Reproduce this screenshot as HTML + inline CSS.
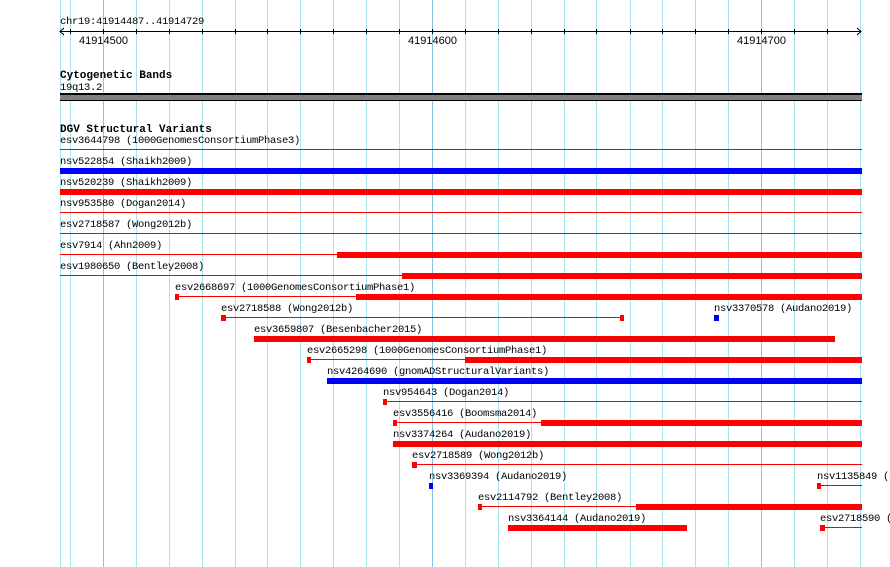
<!DOCTYPE html>
<html><head><meta charset="utf-8"><style>
html,body{margin:0;padding:0;background:#fff;width:890px;height:567px;overflow:hidden}
svg{display:block}
.m{font-family:"Liberation Mono","DejaVu Sans Mono",monospace;font-size:10.5px;fill:#000;letter-spacing:-0.3px}
.b{font-family:"Liberation Mono","DejaVu Sans Mono",monospace;font-size:11px;font-weight:bold;fill:#000}
.s{font-family:"Liberation Sans",sans-serif;font-size:11px;fill:#000}
</style></head><body>
<svg width="890" height="567" xmlns="http://www.w3.org/2000/svg" shape-rendering="crispEdges">
<g stroke="#a8e4ec" stroke-width="1">
<line x1="60.5" y1="0" x2="60.5" y2="567"/>
<line x1="70.5" y1="0" x2="70.5" y2="567"/>
<line x1="103.5" y1="0" x2="103.5" y2="567" stroke="#88c4e4"/>
<line x1="136.5" y1="0" x2="136.5" y2="567"/>
<line x1="169.5" y1="0" x2="169.5" y2="567"/>
<line x1="202.5" y1="0" x2="202.5" y2="567"/>
<line x1="235.5" y1="0" x2="235.5" y2="567"/>
<line x1="267.5" y1="0" x2="267.5" y2="567"/>
<line x1="300.5" y1="0" x2="300.5" y2="567"/>
<line x1="333.5" y1="0" x2="333.5" y2="567"/>
<line x1="366.5" y1="0" x2="366.5" y2="567"/>
<line x1="399.5" y1="0" x2="399.5" y2="567"/>
<line x1="432.5" y1="0" x2="432.5" y2="567" stroke="#88c4e4"/>
<line x1="465.5" y1="0" x2="465.5" y2="567"/>
<line x1="498.5" y1="0" x2="498.5" y2="567"/>
<line x1="531.5" y1="0" x2="531.5" y2="567"/>
<line x1="564.5" y1="0" x2="564.5" y2="567"/>
<line x1="596.5" y1="0" x2="596.5" y2="567"/>
<line x1="630.5" y1="0" x2="630.5" y2="567"/>
<line x1="662.5" y1="0" x2="662.5" y2="567"/>
<line x1="695.5" y1="0" x2="695.5" y2="567"/>
<line x1="728.5" y1="0" x2="728.5" y2="567"/>
<line x1="761.5" y1="0" x2="761.5" y2="567" stroke="#88c4e4"/>
<line x1="794.5" y1="0" x2="794.5" y2="567"/>
<line x1="827.5" y1="0" x2="827.5" y2="567"/>
<line x1="860.5" y1="0" x2="860.5" y2="567"/>
</g>
<text class="m" x="60" y="24">chr19:41914487..41914729</text>
<g stroke="#000" stroke-width="1" fill="none">
<line x1="60" y1="31.5" x2="861" y2="31.5"/>
<polyline points="64,28 60,31.5 64,35"/>
<polyline points="857,28 861,31.5 857,35"/>
<path d="M70.5 29v5M103.5 29v5M136.5 29v5M169.5 29v5M202.5 29v5M235.5 29v5M267.5 29v5M300.5 29v5M333.5 29v5M366.5 29v5M399.5 29v5M432.5 29v5M465.5 29v5M498.5 29v5M531.5 29v5M564.5 29v5M596.5 29v5M630.5 29v5M662.5 29v5M695.5 29v5M728.5 29v5M761.5 29v5M794.5 29v5M827.5 29v5"/>
</g>
<text class="s" x="79" y="44">41914500</text>
<text class="s" x="408" y="44">41914600</text>
<text class="s" x="737" y="44">41914700</text>
<text class="b" x="60" y="78">Cytogenetic Bands</text>
<text class="m" x="60" y="90">19q13.2</text>
<rect x="60" y="93" width="802" height="8" fill="#000"/>
<rect x="60" y="95" width="802" height="5" fill="#808080"/>
<text class="b" x="60" y="132">DGV Structural Variants</text>
<g class="m">
<text x="60" y="143">esv3644798 (1000GenomesConsortiumPhase3)</text>
<text x="60" y="164">nsv522854 (Shaikh2009)</text>
<text x="60" y="185">nsv520239 (Shaikh2009)</text>
<text x="60" y="206">nsv953580 (Dogan2014)</text>
<text x="60" y="227">esv2718587 (Wong2012b)</text>
<text x="60" y="248">esv7914 (Ahn2009)</text>
<text x="60" y="269">esv1980650 (Bentley2008)</text>
<text x="175" y="290">esv2668697 (1000GenomesConsortiumPhase1)</text>
<text x="221" y="311">esv2718588 (Wong2012b)</text>
<text x="714" y="311">nsv3370578 (Audano2019)</text>
<text x="254" y="332">esv3659807 (Besenbacher2015)</text>
<text x="307" y="353">esv2665298 (1000GenomesConsortiumPhase1)</text>
<text x="327" y="374">nsv4264690 (gnomADStructuralVariants)</text>
<text x="383" y="395">nsv954643 (Dogan2014)</text>
<text x="393" y="416">esv3556416 (Boomsma2014)</text>
<text x="393" y="437">nsv3374264 (Audano2019)</text>
<text x="412" y="458">esv2718589 (Wong2012b)</text>
<text x="429" y="479">nsv3369394 (Audano2019)</text>
<text x="817" y="479">nsv1135849 (nsv</text>
<text x="478" y="500">esv2114792 (Bentley2008)</text>
<text x="508" y="521">nsv3364144 (Audano2019)</text>
<text x="820" y="521">esv2718590 (Wong</text>
</g>
<g fill="#f00">
<rect x="60" y="149" width="802" height="1"/>
<rect x="60" y="168" width="802" height="6" fill="#00f"/>
<rect x="60" y="189" width="802" height="6"/>
<rect x="60" y="212" width="802" height="1"/>
<rect x="60" y="233" width="802" height="1"/>
<rect x="60" y="254" width="802" height="1"/><rect x="337" y="252" width="525" height="6"/>
<rect x="60" y="275" width="802" height="1"/><rect x="402" y="273" width="460" height="6"/>
<rect x="175" y="294" width="4" height="6"/><rect x="175" y="296" width="687" height="1"/><rect x="356" y="294" width="506" height="6"/>
<rect x="221" y="315" width="5" height="6"/><rect x="221" y="317" width="402" height="1"/><rect x="620" y="315" width="4" height="6"/>
<rect x="714" y="315" width="5" height="6" fill="#00f"/>
<rect x="254" y="336" width="581" height="6"/>
<rect x="307" y="357" width="4" height="6"/><rect x="307" y="359" width="555" height="1"/><rect x="465" y="357" width="397" height="6"/>
<rect x="327" y="378" width="535" height="6" fill="#00f"/>
<rect x="383" y="399" width="4" height="6"/><rect x="383" y="401" width="479" height="1"/>
<rect x="393" y="420" width="4" height="6"/><rect x="393" y="422" width="469" height="1"/><rect x="541" y="420" width="321" height="6"/>
<rect x="393" y="441" width="469" height="6"/>
<rect x="412" y="462" width="5" height="6"/><rect x="412" y="464" width="450" height="1"/>
<rect x="429" y="483" width="4" height="6" fill="#00f"/>
<rect x="817" y="483" width="4" height="6"/><rect x="817" y="485" width="45" height="1"/>
<rect x="478" y="504" width="4" height="6"/><rect x="478" y="506" width="384" height="1"/><rect x="636" y="504" width="226" height="6"/>
<rect x="508" y="525" width="179" height="6"/>
<rect x="820" y="525" width="5" height="6"/><rect x="820" y="527" width="42" height="1"/>
</g>
</svg>
</body></html>
